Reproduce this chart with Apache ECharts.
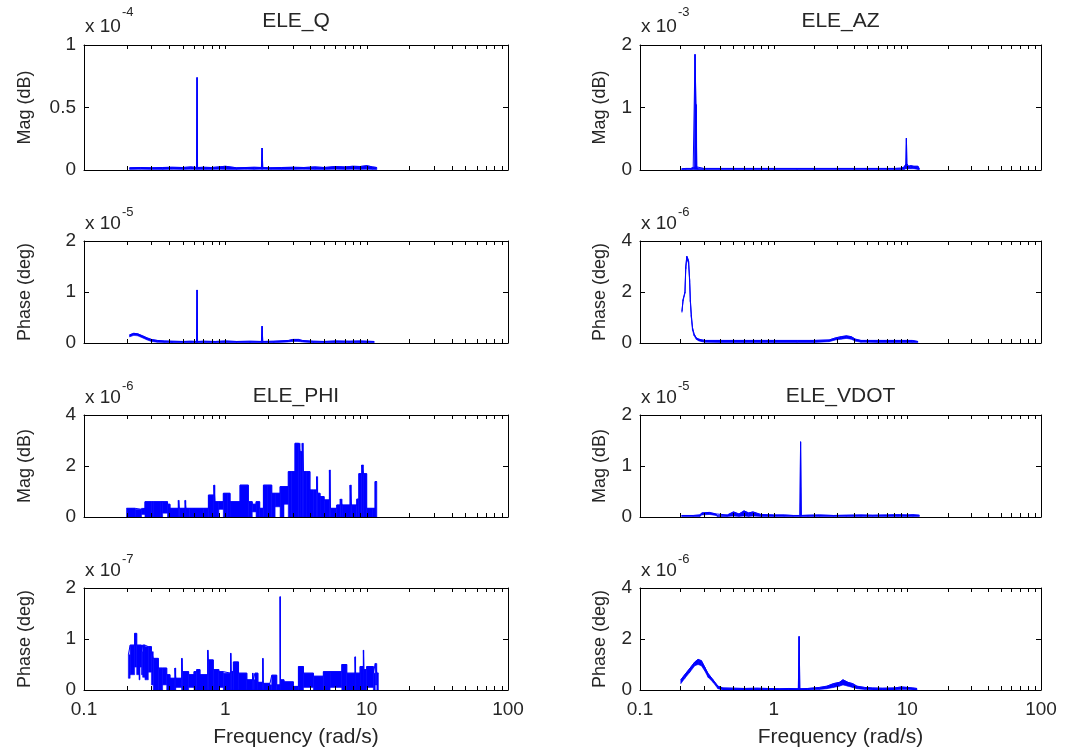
<!DOCTYPE html>
<html>
<head>
<meta charset="utf-8">
<script src="https://cdn.jsdelivr.net/npm/echarts@6/dist/echarts.min.js"></script>
<style>html,body{margin:0;padding:0;background:#fff}#c{width:1086px;height:752px}</style>
</head>
<body>
<div id="c"></div>
<script>
// ---------------- DATA (in units of the panel's exponent) ----------------
// ELE_Q magnitude (x 1e-4)
const qMagFreq = [0.21, 0.25, 0.3, 0.36, 0.42, 0.5, 0.57, 0.626, 0.631, 0.636, 0.7, 0.8, 0.9, 1.0, 1.2, 1.4, 1.6, 1.8, 1.82, 1.84, 2.1, 2.5, 3.0, 3.6, 4.3, 5.0, 6.0, 7.0, 8.0, 9.0, 10.0, 11.0, 11.8];
const qMagHi = [0.018, 0.02, 0.018, 0.02, 0.022, 0.02, 0.025, 0.02, 0.74, 0.02, 0.022, 0.02, 0.025, 0.03, 0.018, 0.02, 0.022, 0.02, 0.176, 0.02, 0.018, 0.02, 0.022, 0.02, 0.025, 0.02, 0.028, 0.025, 0.03, 0.028, 0.035, 0.025, 0.02];
const qMagLo = [0.005, 0.006, 0.005, 0.004, 0.006, 0.005, 0.006, 0.005, 0.006, 0.005, 0.004,
                0.005, 0.006, 0.005, 0.004, 0.006, 0.005, 0.006, 0.005, 0.006, 0.005, 0.004,
                0.005, 0.006, 0.005, 0.004, 0.006, 0.005, 0.006, 0.005, 0.006, 0.005, 0.004];
// ELE_Q phase (x 1e-5)
const qPhFreq = [0.21, 0.225, 0.24, 0.26, 0.28, 0.3, 0.33, 0.37, 0.42, 0.5, 0.57, 0.626, 0.631, 0.636, 0.7, 0.85, 1.0, 1.2, 1.5, 1.8, 1.82, 1.84, 2.2, 2.8, 3.0, 3.3, 3.5, 4.2, 5.0, 6.0, 7.5, 9.0, 10.0, 11.3];
const qPhHi = [0.16, 0.19, 0.18, 0.14, 0.10, 0.07, 0.05, 0.04, 0.035, 0.03, 0.035, 0.03, 1.04, 0.03, 0.035, 0.03, 0.04, 0.03, 0.035, 0.03, 0.33, 0.03, 0.035, 0.05, 0.07, 0.07, 0.05, 0.035, 0.03, 0.04, 0.035, 0.04, 0.035, 0.03];
const qPhLo = [0.12, 0.15, 0.14, 0.10, 0.06, 0.03, 0.015, 0.01,
               0.005, 0.005, 0.005, 0.005, 0.005, 0.005, 0.005, 0.005, 0.005, 0.005, 0.005, 0.005, 0.005, 0.005, 0.005,
               0.02, 0.03, 0.03, 0.02,
               0.005, 0.005, 0.005, 0.005, 0.005, 0.005, 0.005];
// ELE_AZ magnitude (x 1e-3)
const azMagFreq = [0.205, 0.22, 0.24, 0.25, 0.256, 0.258, 0.262, 0.264, 0.266, 0.27, 0.3, 0.4, 0.5, 0.7, 1.0, 1.5, 2.0, 3.0, 4.0, 5.0, 6.0, 7.0, 8.0, 9.0, 9.5, 9.75, 9.84, 9.93, 10.2, 10.6, 11.2, 12.0, 12.3];
const azMagHi = [0.02, 0.025, 0.025, 0.04, 0.05, 1.85, 1.06, 1.04, 0.05, 0.03,
                 0.025, 0.025, 0.025, 0.025, 0.025, 0.025, 0.025, 0.025, 0.025, 0.025, 0.025, 0.025, 0.025,
                 0.03, 0.05, 0.1, 0.51, 0.1, 0.06, 0.07, 0.06, 0.06, 0.02];
const azMagLo = [0.005, 0.005, 0.005, 0.01, 0.01, 0.01, 0.01, 0.01, 0.01, 0.005,
                 0.005, 0.005, 0.005, 0.005, 0.005, 0.005, 0.005, 0.005, 0.005, 0.005, 0.005, 0.005, 0.005,
                 0.005, 0.01, 0.02, 0.02, 0.02, 0.02, 0.02, 0.02, 0.01, 0.005];
// ELE_AZ phase (x 1e-6)
const azPhFreq = [0.206, 0.210, 0.217, 0.220, 0.224, 0.228, 0.231, 0.235, 0.238, 0.242, 0.247, 0.254, 0.264, 0.276, 0.291, 0.307, 0.4, 0.6, 0.8, 1.0, 1.5, 2.0, 2.6, 2.9, 3.2, 3.5, 3.8, 4.1, 4.5, 5.0, 6.0, 8.0, 10.9, 12.0];
const azPhHi = [1.25, 1.7, 2.0, 3.0, 3.4, 3.3, 3.2, 2.5, 1.7, 1.1, 0.6, 0.35, 0.2, 0.15, 0.12, 0.1,
                0.1, 0.1, 0.1, 0.1, 0.1, 0.1,
                0.12, 0.2, 0.25, 0.28, 0.25, 0.15, 0.1, 0.1, 0.1, 0.1, 0.1, 0.06];
const azPhLo = [1.2, 1.65, 1.95, 2.9, 3.3, 3.2, 3.1, 2.4, 1.6, 1.0, 0.5, 0.28, 0.14, 0.08, 0.05, 0.03,
                0.02, 0.02, 0.02, 0.02, 0.02, 0.02,
                0.05, 0.12, 0.15, 0.18, 0.15, 0.07, 0.03, 0.03, 0.02, 0.02, 0.02, 0.02];
// ELE_PHI magnitude (x 1e-6), staircase
const phiMagFreq = [0.200, 0.215, 0.230, 0.255, 0.270, 0.300, 0.310, 0.350, 0.360, 0.390,
                    0.406, 0.465, 0.472, 0.519, 0.526, 0.560, 0.600, 0.700, 0.759, 0.830,
                    0.845, 0.900, 0.968, 1.030, 1.080, 1.270, 1.455, 1.550, 1.650, 1.750,
                    1.860, 2.000, 2.130, 2.250, 2.440, 2.600, 2.790, 2.950, 3.110, 3.300,
                    3.380, 3.500, 3.570, 3.750, 3.970, 4.200, 4.430, 4.500, 4.680, 5.000,
                    5.450, 5.550, 6.140, 6.500, 6.700, 7.630, 7.800, 8.510, 8.800, 9.230,
                    9.500, 10.00, 11.00, 11.46, 11.80];
const phiMagHi = [0.34, 0.34, 0.30, 0.34, 0.60, 0.60, 0.60, 0.60, 0.60, 0.50,
                  0.34, 0.65, 0.34, 0.65, 0.34, 0.34, 0.34, 0.34, 0.86, 1.25,
                  0.60, 0.60, 0.93, 0.93, 0.60, 1.25, 0.60, 0.50, 0.60, 0.34,
                  1.25, 1.25, 0.93, 0.93, 1.19, 1.19, 1.78, 1.78, 2.89, 2.89,
                  2.56, 2.89, 1.78, 1.78, 1.06, 1.06, 1.58, 0.93, 0.80, 0.67,
                  1.84, 0.34, 0.47, 0.70, 0.47, 1.25, 0.47, 0.70, 1.70, 2.04,
                  1.70, 0.34, 0.34, 1.39, 1.39];
const phiMagLo = [0.00, 0.00, 0.00, 0.10, 0.00, 0.00, 0.00, 0.00, 0.15, 0.00,
                  0.00, 0.00, 0.00, 0.00, 0.00, 0.00, 0.00, 0.00, 0.00, 0.00,
                  0.00, 0.30, 0.00, 0.00, 0.00, 0.00, 0.00, 0.20, 0.00, 0.00,
                  0.00, 0.00, 0.00, 0.40, 0.00, 0.50, 0.00, 0.00, 0.00, 0.00,
                  0.00, 0.00, 0.00, 0.00, 0.00, 0.00, 0.00, 0.00, 0.00, 0.00,
                  0.00, 0.00, 0.00, 0.00, 0.00, 0.00, 0.00, 0.00, 0.00, 0.00,
                  0.00, 0.00, 0.00, 0.00, 0.00];
// ELE_VDOT magnitude (x 1e-5)
const vdMagFreq = [0.205, 0.25, 0.28, 0.29, 0.33, 0.37, 0.38, 0.45, 0.5, 0.55, 0.6, 0.65, 0.7, 0.8, 1.0, 1.2, 1.4, 1.57, 1.59, 1.61, 1.8, 2.2, 2.8, 3.5, 4.5, 5.5, 7.0, 8.5, 10.0, 11.0, 12.3];
const vdMagHi = [0.03, 0.03, 0.04, 0.08, 0.09, 0.06, 0.03, 0.04, 0.1, 0.06, 0.12, 0.08, 0.1, 0.05, 0.04, 0.04, 0.03, 0.03, 1.475, 0.03, 0.035, 0.04, 0.03, 0.035, 0.04, 0.035, 0.04, 0.045, 0.04, 0.045, 0.035];
const vdMagLo = [0.01, 0.01, 0.01, 0.04, 0.05, 0.03, 0.01, 0.01, 0.02, 0.01, 0.02, 0.01, 0.02, 0.01, 0.01, 0.01, 0.01, 0.01, 0.01, 0.01, 0.01, 0.01, 0.01, 0.01, 0.01, 0.01, 0.01, 0.01, 0.01, 0.01, 0.01];
// ELE_PHI phase (x 1e-7), staircase
const phiPhFreq = [0.206, 0.212, 0.228, 0.236, 0.245, 0.249, 0.255, 0.260, 0.270, 0.285,
                   0.300, 0.309, 0.336, 0.360, 0.385, 0.406, 0.440, 0.446, 0.491, 0.497,
                   0.550, 0.600, 0.627, 0.662, 0.750, 0.757, 0.822, 0.900, 0.968, 1.090,
                   1.100, 1.140, 1.240, 1.420, 1.560, 1.575, 1.620, 1.700, 1.840, 1.855,
                   2.070, 2.130, 2.310, 2.440, 2.455, 2.600, 3.030, 3.290, 3.570, 4.200,
                   4.940, 5.510, 6.670, 7.230, 8.270, 8.350, 8.980, 9.480, 9.560, 10.00,
                   11.15, 11.50, 11.80, 12.10];
const phiPhHi = [0.69, 0.88, 1.11, 0.88, 0.88, 0.88, 0.75, 0.88, 0.85, 0.85,
                 0.75, 0.62, 0.43, 0.43, 0.30, 0.23, 0.43, 0.23, 0.62, 0.36,
                 0.30, 0.36, 0.40, 0.30, 0.78, 0.59, 0.40, 0.36, 0.33, 0.72,
                 0.36, 0.55, 0.33, 0.20, 0.33, 0.20, 0.33, 0.15, 0.62, 0.13,
                 0.10, 0.29, 0.10, 1.83, 0.20, 0.16, 0.07, 0.46, 0.33, 0.27,
                 0.36, 0.36, 0.50, 0.33, 0.65, 0.33, 0.46, 0.78, 0.40, 0.46,
                 0.33, 0.52, 0.33, 0.33];
const phiPhLo = [0.23, 0.30, 0.45, 0.30, 0.20, 0.45, 0.30, 0.25, 0.20, 0.35,
                 0.10, 0.00, 0.00, 0.10, 0.00, 0.00, 0.00, 0.05, 0.00, 0.00,
                 0.05, 0.00, 0.00, 0.00, 0.00, 0.00, 0.00, 0.05, 0.00, 0.00,
                 0.00, 0.00, 0.00, 0.00, 0.00, 0.00, 0.00, 0.00, 0.00, 0.00,
                 0.00, 0.00, 0.00, 0.00, 0.00, 0.00, 0.00, 0.00, 0.05, 0.00,
                 0.00, 0.05, 0.00, 0.00, 0.00, 0.00, 0.00, 0.00, 0.00, 0.05,
                 0.00, 0.10, 0.00, 0.00];
// ELE_VDOT phase (x 1e-6)
const vdPhFreq = [0.202, 0.216, 0.236, 0.257, 0.272, 0.288, 0.305, 0.323, 0.352, 0.383, 0.417, 0.5, 0.6, 0.75, 0.9, 1.1, 1.3, 1.53, 1.55, 1.57, 1.8, 2.2, 2.5, 2.8, 3.1, 3.3, 3.6, 3.9, 4.2, 4.8, 5.5, 6.5, 8.0, 9.0, 10.0, 11.0, 11.8];
const vdPhHi = [0.4, 0.6, 0.85, 1.1, 1.2, 1.15, 0.9, 0.65, 0.4, 0.15, 0.08, 0.07, 0.06, 0.07, 0.06, 0.05, 0.06, 0.05, 2.1, 0.05, 0.06, 0.1, 0.15, 0.25, 0.3, 0.4, 0.3, 0.25, 0.15, 0.1, 0.08, 0.07, 0.08, 0.12, 0.1, 0.08, 0.06];
const vdPhLo = [0.25, 0.45, 0.7, 0.95, 1.0, 0.95, 0.75, 0.5, 0.3, 0.05,
                0, 0, 0, 0, 0, 0, 0, 0, 0, 0, 0,
                0.02, 0.05, 0.1, 0.15, 0.2, 0.15, 0.1, 0.05, 0.02, 0, 0, 0, 0.02, 0.02, 0, 0];

// Axis settings / labels
const titles = ['ELE_Q', 'ELE_AZ', '', '', 'ELE_PHI', 'ELE_VDOT', '', ''];
const yNames = ['Mag (dB)', 'Mag (dB)', 'Phase (deg)', 'Phase (deg)', 'Mag (dB)', 'Mag (dB)', 'Phase (deg)', 'Phase (deg)'];
const yMax = [1, 2, 2, 4, 4, 2, 2, 4];
const yStep = [0.5, 1, 1, 2, 2, 1, 1, 2];
const exponents = ['-4', '-3', '-5', '-6', '-6', '-5', '-7', '-6'];
const xTickValues = [0.2, 0.3, 0.4, 0.5, 0.6, 0.7, 0.8, 0.9, 1, 2, 3, 4, 5, 6, 7, 8, 9, 10, 20, 30, 40, 50, 60, 70, 80, 90];
const xAxisTitle = 'Frequency (rad/s)';

// ---------------- LAYOUT ----------------
const FONT = '"Liberation Sans", Arial, Helvetica, sans-serif';
const TXT = '#262626';
const BLUE = '#0000ff';
const COL_X = [84, 640], COL_W = [424, 401];
const ROW_Y = [45, 241, 415, 588], ROW_H = [125, 102, 102, 102];

const panelData = [
  [qMagFreq, qMagHi, qMagLo, false],
  [azMagFreq, azMagHi, azMagLo, false],
  [qPhFreq, qPhHi, qPhLo, false],
  [azPhFreq, azPhHi, azPhLo, false],
  [phiMagFreq, phiMagHi, phiMagLo, true],
  [vdMagFreq, vdMagHi, vdMagLo, false],
  [phiPhFreq, phiPhHi, phiPhLo, true],
  [vdPhFreq, vdPhHi, vdPhLo, false]
];

const grids = [], xAxes = [], yAxes = [], series = [], graphics = [];
panelData.forEach((pd, i) => {
  const col = i % 2, row = Math.floor(i / 2);
  const left = COL_X[col], width = COL_W[col], top = ROW_Y[row], height = ROW_H[row];
  const [freq, hi, lo, step] = pd;
  const bottomRow = row === 3;
  grids.push({ left, top, width, height, show: false, containLabel: false, outerBoundsMode: 'none' });
  const axLine = { show: true, onZero: false, lineStyle: { color: '#000', width: 1 } };
  xAxes.push({
    gridIndex: i, type: 'log', logBase: 10, min: 0.1, max: 100, position: 'bottom', z: 4,
    axisLine: axLine, axisTick: { show: false }, splitLine: { show: false },
    axisLabel: { show: bottomRow, margin: 10, fontSize: 19, fontFamily: FONT, color: TXT, showMinLabel: true, showMaxLabel: true },
    name: bottomRow ? xAxisTitle : '', nameLocation: 'middle', nameGap: 37,
    nameTextStyle: { fontSize: 21, fontFamily: FONT, color: TXT }
  });
  xAxes.push({
    gridIndex: i, type: 'log', logBase: 10, min: 0.1, max: 100, position: 'top', z: 4,
    axisLine: axLine, axisTick: { show: false }, axisLabel: { show: false }, splitLine: { show: false }
  });
  const tick = { show: true, inside: true, length: 5, lineStyle: { color: '#000', width: 1 } };
  yAxes.push({
    gridIndex: i, type: 'value', min: 0, max: yMax[i], interval: yStep[i], position: 'left', z: 4,
    axisLine: axLine, axisTick: tick, splitLine: { show: false },
    axisLabel: { margin: 8, fontSize: 19, fontFamily: FONT, color: TXT },
    name: yNames[i], nameLocation: 'middle', nameGap: col ? 31 : 50, nameRotate: 90,
    nameTextStyle: { fontSize: 18, fontFamily: FONT, color: TXT }
  });
  yAxes.push({
    gridIndex: i, type: 'value', min: 0, max: yMax[i], interval: yStep[i], position: 'right', z: 4,
    axisLine: axLine, axisTick: tick, axisLabel: { show: false }, splitLine: { show: false }
  });
  // filled band between lower and upper envelope
  const rows = [];
  for (let k = 0; k < freq.length - 1; k++) rows.push([freq[k], freq[k + 1], lo[k], hi[k], lo[k + 1], hi[k + 1]]);
  series.push({
    type: 'custom', xAxisIndex: 2 * i, yAxisIndex: 2 * i, silent: true, z: 2, animation: false,
    data: rows, encode: { x: [0, 1], y: [2, 3, 4, 5] },
    renderItem: (params, api) => {
      const f0 = api.value(0), f1 = api.value(1), l0 = api.value(2), h0 = api.value(3), l1 = api.value(4), h1 = api.value(5);
      const pts = step
        ? [api.coord([f0, l0]), api.coord([f1, l0]), api.coord([f1, h0]), api.coord([f0, h0])]
        : [api.coord([f0, l0]), api.coord([f1, l1]), api.coord([f1, h1]), api.coord([f0, h0])];
      return { type: 'polygon', shape: { points: pts }, style: { fill: BLUE, stroke: BLUE, lineWidth: 0.6 } };
    }
  });
  // upper envelope line
  series.push({
    type: 'line', xAxisIndex: 2 * i, yAxisIndex: 2 * i, silent: true, z: 3, animation: false,
    data: freq.map((f, k) => [f, hi[k]]), step: step ? 'end' : false,
    symbol: 'none', showSymbol: false, lineStyle: { color: BLUE, width: 1 }
  });
  // log x ticks (major + minor) inside, bottom & top
  series.push({
    type: 'custom', xAxisIndex: 2 * i, yAxisIndex: 2 * i, silent: true, z: 5, animation: false,
    data: xTickValues.map(v => [v, 0]),
    renderItem: (params, api) => {
      const c = api.coord([api.value(0), 0]);
      const cs = params.coordSys;
      const x = Math.round(c[0]) + 0.5;
      const yb = cs.y + cs.height, yt = cs.y;
      return {
        type: 'group', children: [
          { type: 'line', shape: { x1: x, y1: yb, x2: x, y2: yb - 4 }, style: { stroke: '#000', lineWidth: 1 } },
          { type: 'line', shape: { x1: x, y1: yt, x2: x, y2: yt + 4 }, style: { stroke: '#000', lineWidth: 1 } }
        ]
      };
    }
  });
  // exponent label "x 10^n"
  const upOff = row === 0 ? 18 : 17;
  const supOff = row === 0 ? 33 : 29;
  graphics.push({ type: 'text', x: left + 1, y: top - upOff, style: { text: 'x 10', font: '19px ' + FONT, fill: TXT, align: 'left', verticalAlign: 'middle' } });
  graphics.push({ type: 'text', x: left + 38, y: top - supOff, style: { text: exponents[i], font: '13px ' + FONT, fill: TXT, align: 'left', verticalAlign: 'middle' } });
  if (titles[i]) {
    graphics.push({ type: 'text', x: left + width / 2, y: row === 0 ? 21 : 396, style: { text: titles[i], font: '21px ' + FONT, fill: TXT, align: 'center', verticalAlign: 'middle' } });
  }
});

const chart = echarts.init(document.getElementById('c'), null, { renderer: 'canvas' });
chart.setOption({
  animation: false,
  backgroundColor: '#ffffff',
  grid: grids,
  xAxis: xAxes,
  yAxis: yAxes,
  series: series,
  graphic: graphics
});
</script>
</body>
</html>
